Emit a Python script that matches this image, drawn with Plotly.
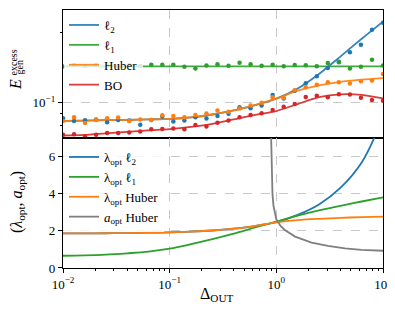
import plotly.graph_objects as go
from plotly.subplots import make_subplots

# ---------------- data ----------------
# simulation abscissae (Delta_OUT)
delta_sim = [0.01, 0.012690, 0.016103, 0.020434, 0.025929, 0.032903, 0.041753, 0.052983,
             0.067234, 0.085317, 0.10826, 0.13738, 0.17433, 0.22122, 0.28072, 0.35622,
             0.45204, 0.57362, 0.72790, 0.92367, 1.1721, 1.4874, 1.8874, 2.3950,
             3.0392, 3.8566, 4.8939, 6.2102, 7.8805, 10.0]

sim_l2 = [0.0857, 0.0834, 0.0840, 0.0847, 0.0824, 0.0842, 0.0838, 0.0804, 0.0842, 0.0872,
          0.0829, 0.0838, 0.0865, 0.0855, 0.0876, 0.0896, 0.0954, 0.0945, 0.0971, 0.1079,
          0.1042, 0.1125, 0.1211, 0.1299, 0.1409, 0.1492, 0.1645, 0.1774, 0.2055, 0.2202]
sim_l1 = [0.1430, 0.1451, 0.1437, 0.1454, 0.1444, 0.1430, 0.1451, 0.1437, 0.1454, 0.1454,
          0.1454, 0.1426, 0.1402, 0.1444, 0.1462, 0.1440, 0.1483, 0.1461, 0.1440, 0.1455,
          0.1434, 0.1451, 0.1448, 0.1434, 0.1480, 0.1499, 0.1402, 0.1426, 0.1529, 0.1444]
sim_huber = [0.0834, 0.0865, 0.0818, 0.0842, 0.0857, 0.0862, 0.0834, 0.0845, 0.0842, 0.0882,
             0.0876, 0.0865, 0.0885, 0.0898, 0.0925, 0.0914, 0.0943, 0.0971, 0.0998, 0.1055,
             0.1048, 0.1130, 0.1164, 0.1193, 0.1223, 0.1223, 0.1207, 0.1234, 0.1246, 0.1326]
sim_bo = [0.0727, 0.0732, 0.0715, 0.0727, 0.0740, 0.0740, 0.0744, 0.0751, 0.0769, 0.0771,
          0.0773, 0.0769, 0.0802, 0.0789, 0.0820, 0.0837, 0.0865, 0.0885, 0.0899, 0.0929,
          0.0960, 0.0986, 0.1058, 0.1069, 0.1055, 0.1087, 0.1084, 0.1048, 0.1026, 0.1018]

# theory abscissae
delta_th = [0.01, 0.015849, 0.025119, 0.039811, 0.063096, 0.1, 0.15849, 0.25119,
            0.39811, 0.63096, 1.0, 1.5849, 2.5119, 3.9811, 6.3096, 10.0]

th_l2 = [0.0834, 0.0837, 0.0840, 0.0842, 0.0847, 0.0851, 0.0864, 0.0889,
         0.0925, 0.0976, 0.1040, 0.1150, 0.1328, 0.1577, 0.1881, 0.2229]
th_l1 = [0.1430, 0.1430, 0.1430, 0.1430, 0.1430, 0.1430, 0.1430, 0.1430,
         0.1430, 0.1430, 0.1430, 0.1430, 0.1430, 0.1430, 0.1430, 0.1430]
th_huber = [0.0834, 0.0837, 0.0840, 0.0842, 0.0847, 0.0851, 0.0864, 0.0889,
            0.0925, 0.0976, 0.1040, 0.1125, 0.1187, 0.1229, 0.1255, 0.1275]
th_bo = [0.0722, 0.0727, 0.0738, 0.0749, 0.0760, 0.0769, 0.0786, 0.0810,
         0.0847, 0.0885, 0.0920, 0.0986, 0.1055, 0.1085, 0.1079, 0.1042]

lam_l2 = [1.86, 1.86, 1.87, 1.88, 1.90, 1.92, 1.96, 2.02,
          2.12, 2.26, 2.47, 2.86, 3.42, 4.31, 5.68, 8.10]
lam_l1 = [0.66, 0.68, 0.72, 0.79, 0.88, 1.04, 1.28, 1.55,
          1.85, 2.18, 2.50, 2.82, 3.10, 3.35, 3.58, 3.80]
lam_huber = [1.86, 1.86, 1.87, 1.88, 1.90, 1.92, 1.96, 2.02,
             2.12, 2.26, 2.46, 2.58, 2.65, 2.70, 2.74, 2.77]

delta_a = [0.886, 0.895, 0.905, 0.92, 0.94, 0.97, 1.0, 1.1, 1.2, 1.5, 2.14, 3.05, 4.4, 6.3, 10.0]
a_huber = [8.0, 6.3, 5.0, 4.0, 3.35, 2.9, 2.62, 2.25, 2.05, 1.69, 1.37, 1.19, 1.06, 0.98, 0.93]

x_ticks = [0.01, 0.1, 1, 10]
x_ticktext = ["10<sup>−2</sup>", "10<sup>−1</sup>", "10<sup>0</sup>", "10<sup>1</sup>"]

# ---------------- styling ----------------
BLUE, ORANGE, GREEN, RED, GRAY = "#1f77b4", "#ff7f0e", "#2ca02c", "#d62728", "#7f7f7f"
FONT = "Liberation Serif"

fig = make_subplots(rows=2, cols=1, shared_xaxes=True, vertical_spacing=0)

top_lines = [("ℓ<sub>2</sub>", th_l2, BLUE), ("ℓ<sub>1</sub>", th_l1, GREEN),
             ("Huber", th_huber, ORANGE), ("BO", th_bo, RED)]
for name, ys, c in top_lines:
    fig.add_trace(go.Scatter(x=delta_th, y=ys, mode="lines", name=name,
                             line=dict(color=c, width=1.8, shape="spline", smoothing=0.8),
                             opacity=0.9, legend="legend"), row=1, col=1)

for ys, c in [(sim_l2, BLUE), (sim_l1, GREEN), (sim_huber, ORANGE), (sim_bo, RED)]:
    fig.add_trace(go.Scatter(x=delta_sim, y=ys, mode="markers", showlegend=False,
                             marker=dict(color=c, size=4.5, line=dict(width=0))),
                  row=1, col=1)

bot_lines = [("λ<sub>opt</sub> ℓ<sub>2</sub>", delta_th, lam_l2, BLUE, "spline"),
             ("λ<sub>opt</sub> ℓ<sub>1</sub>", delta_th, lam_l1, GREEN, "spline"),
             ("λ<sub>opt</sub> Huber", delta_th, lam_huber, ORANGE, "spline"),
             ("<i>a</i><sub>opt</sub> Huber", delta_a, a_huber, GRAY, "linear")]
for name, xs, ys, c, shp in bot_lines:
    fig.add_trace(go.Scatter(x=xs, y=ys, mode="lines", name=name,
                             line=dict(color=c, width=1.8, shape=shp),
                             legend="legend2"), row=2, col=1)

axis_common = dict(showline=True, mirror=True, linecolor="black", linewidth=1.2,
                   gridcolor="#c8c8c8", griddash="dash", gridwidth=0.8,
                   tickfont=dict(family=FONT, size=13, color="black"),
                   zeroline=False, automargin=False)

minor_x = [m * d for d in [0.01, 0.1, 1] for m in range(2, 10)]

fig.update_xaxes(type="log", range=[-2, 1], tickvals=x_ticks, ticktext=x_ticktext,
                 **axis_common)
fig.update_xaxes(showticklabels=False, ticks="", row=1, col=1)
fig.update_xaxes(ticks="outside", ticklen=4, tickwidth=1, tickcolor="black",
                 minor=dict(tickvals=minor_x, ticks="outside", ticklen=2, tickwidth=0.8,
                            tickcolor="black", showgrid=False),
                 row=2, col=1)

fig.update_yaxes(type="log", range=[-1.152, -0.602], tickvals=[0.1],
                 ticktext=["10<sup>−1</sup>"], ticks="outside", ticklen=4, tickwidth=1,
                 tickcolor="black",
                 minor=dict(tickvals=[0.07, 0.08, 0.09, 0.2], ticks="outside", ticklen=2,
                            tickwidth=0.8, tickcolor="black", showgrid=False),
                 domain=[0.504, 1.0], row=1, col=1, **axis_common)
fig.update_yaxes(range=[0, 7], tickvals=[0, 2, 4, 6], ticks="outside", ticklen=4,
                 tickwidth=1, tickcolor="black", domain=[0.0, 0.504],
                 row=2, col=1, **axis_common)

legend_common = dict(bgcolor="rgba(255,255,255,0.8)", borderwidth=0, itemwidth=30,
                     font=dict(family=FONT, size=13, color="black"),
                     xanchor="left", yanchor="top")

# page body has an 8 px margin: the figure is drawn 8 px right/down of the window origin
OFF = 8
W, H = 395 - OFF, 319 - OFF
L, T = 63 - OFF, 10 - OFF
R = W - (383 - OFF)
B = H - (268 - OFF)
PW, PH = W - L - R, H - T - B


def px(xp):
    return (xp - OFF - L) / PW


def py(yp):
    return (H - B - (yp - OFF)) / PH


fig.update_layout(
    width=W, height=H, margin=dict(l=L, r=R, t=T, b=B),
    paper_bgcolor="white", plot_bgcolor="white",
    font=dict(family=FONT, color="black"),
    legend=dict(x=px(64), y=py(10), **legend_common),
    legend2=dict(x=px(64), y=py(142), **legend_common),
)

ann = [
    dict(text="<i>E</i>", x=px(16), y=py(85), size=16),
    dict(text="excess", x=px(13), y=py(62.5), size=10),
    dict(text="gen", x=px(19.5), y=py(68), size=10),
    dict(text="(<i>λ</i><sub>opt</sub>, <i>a</i><sub>opt</sub>)", x=px(17), y=py(202), size=16),
]
for a in ann:
    fig.add_annotation(text=a["text"], x=a["x"], y=a["y"], xref="paper", yref="paper",
                       showarrow=False, textangle=-90, xanchor="center", yanchor="middle",
                       font=dict(family=FONT, size=a["size"], color="black"))
fig.add_annotation(text="Δ<sub>OUT</sub>", x=px(216), y=py(294), xref="paper", yref="paper",
                   showarrow=False, xanchor="center", yanchor="middle",
                   font=dict(family=FONT, size=16, color="black"))

fig.write_html("out.html")
